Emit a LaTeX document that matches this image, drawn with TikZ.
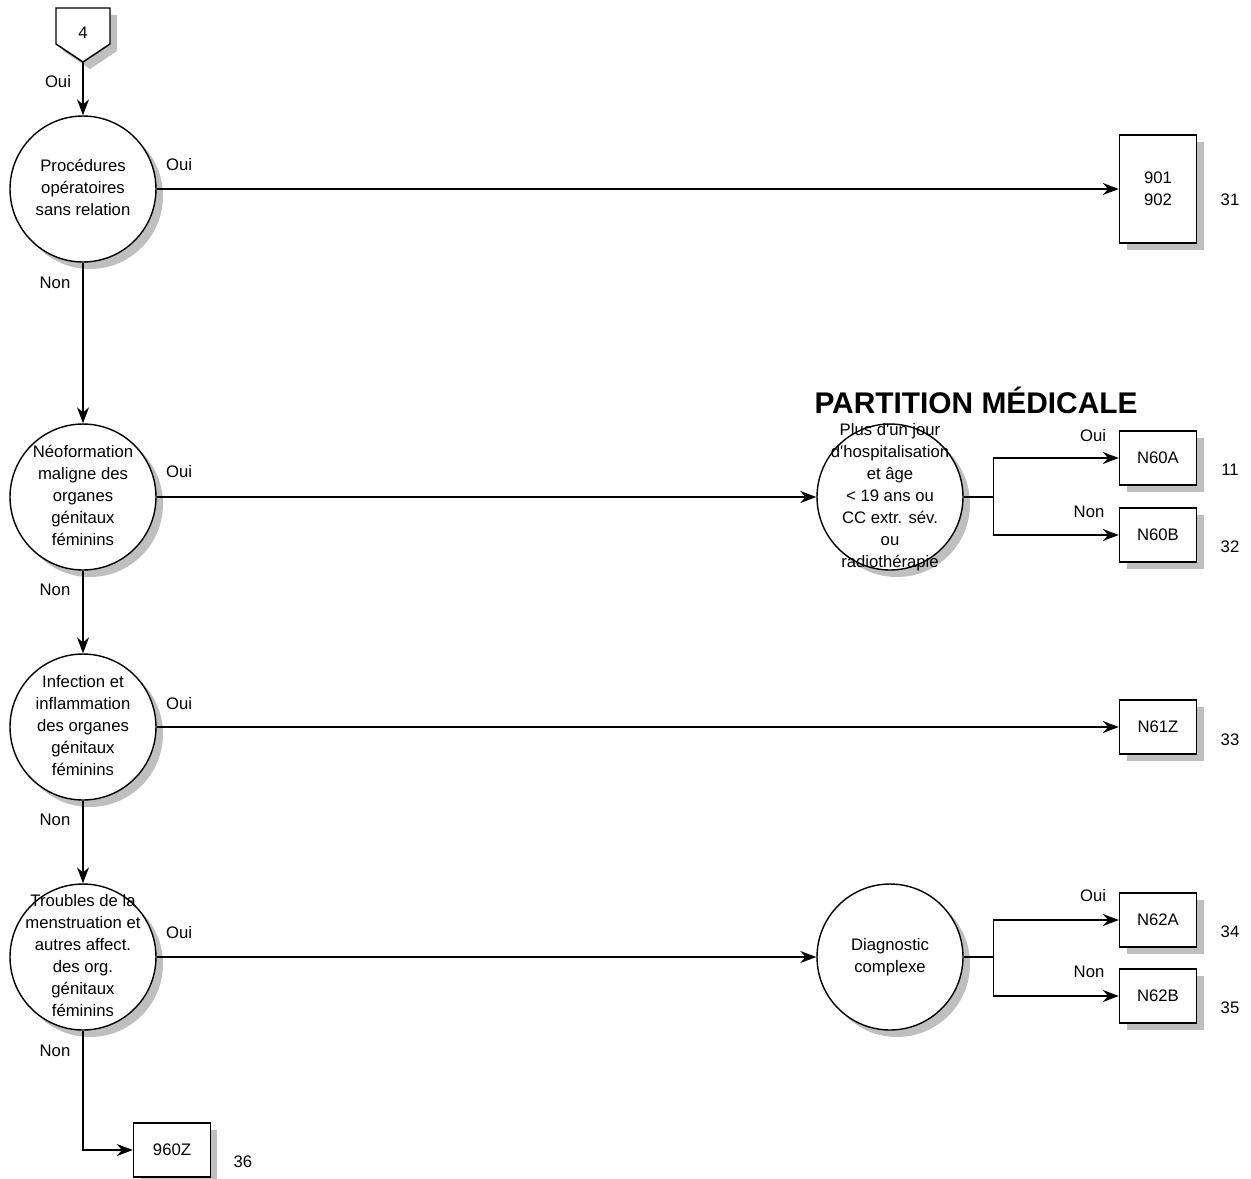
\documentclass[tikz,border=0pt]{standalone}
\usepackage{fontspec}
\setmainfont{Liberation Sans}
\usetikzlibrary{arrows.meta, shadows, positioning}

\newcommand\qtext[1]{\smash{\raisebox{-2.5pt}{\makebox[0pt]{\begin{tabular}{@{}c@{}}#1\end{tabular}}}}}

\tikzset{
  shade/.style={drop shadow={shadow xshift=0.14cm, shadow yshift=-0.14cm, fill=black!25, opacity=1}},
  question/.style={circle, draw, thick, fill=white, shade, minimum size=2.92cm, inner sep=0pt},
  result/.style={rectangle, draw, thick, fill=white, shade, minimum width=1.54cm, minimum height=1.08cm, align=center},
  lbl/.style={inner sep=0pt},
  arr/.style={thick, -{Stealth[length=0.32cm, width=0.24cm]}},
  line/.style={thick}
}

\begin{document}
\begin{tikzpicture}[x=0.02cm, y=-0.02cm, font=\fontsize{9.5}{12.5}\selectfont]
\useasboundingbox (0,0) rectangle (1251,1178);

% renvoi page
\fill[black!25] (63,15) -- (117,15) -- (117,51) -- (90,69) -- (63,51) -- cycle;
\draw[thick, fill=white] (56,8) -- (110,8) -- (110,44) -- (83,62) -- (56,44) -- cycle;
\node (c4) at (83,33) {4};
\coordinate (c4tip) at (83,62);

% questions
\node[question] (q1) at (83,189) {\qtext{Procédures\\opératoires\\sans relation}};
\node[question] (q2) at (83,497) {\qtext{Néoformation\\maligne des\\organes\\génitaux\\féminins}};
\node[question] (q3) at (83,727) {\qtext{Infection et\\inflammation\\des organes\\génitaux\\féminins}};
\node[question] (q4) at (83,957) {\qtext{Troubles de la\\menstruation et\\autres affect.\\des org.\\génitaux\\féminins}};
\node[question] (q5) at (890,497) {\qtext{Plus d\textquotesingle un jour\\d\textquotesingle hospitalisation\\et âge\\< 19 ans ou\\CC extr. sév.\\ou\\radiothérapie}};
\node[question] (q6) at (890,957) {\qtext{Diagnostic\\complexe}};

\node[font=\fontsize{17}{19}\selectfont\bfseries] (titre) at (976,400) {PARTITION MÉDICALE};

% resultats
\node[result, minimum height=2.16cm] (r901) at (1158,189) {901\\902};
\node[result] (n60a) at (1158,458) {N60A};
\node[result] (n60b) at (1158,535) {N60B};
\node[result] (n61z) at (1158,727) {N61Z};
\node[result] (n62a) at (1158,920) {N62A};
\node[result] (n62b) at (1158,996) {N62B};
\node[result] (r960) at (172,1150) {960Z};

\node[lbl] (k31) at (1230,200) {31};
\node[lbl] (k11) at (1230,470) {11};
\node[lbl] (k32) at (1230,547) {32};
\node[lbl] (k33) at (1230,740) {33};
\node[lbl] (k34) at (1230,932) {34};
\node[lbl] (k35) at (1230,1008) {35};
\node[lbl] (k36) at (243,1162) {36};

% liens
\draw[arr] (c4tip) -- (q1.north);
\draw[arr] (q1) -- (r901);
\draw[arr] (q1) -- (q2);
\draw[arr] (q2) -- (q5);
\draw[arr] (q2) -- (q3);
\draw[arr] (q3) -- (n61z);
\draw[arr] (q3) -- (q4);
\draw[arr] (q4) -- (q6);
\draw[arr] (q4.south) |- (r960.west);

\draw[line] (q5.east) -- ++(30,0) coordinate (b5);
\draw[arr] (b5) |- (n60a.west);
\draw[arr] (b5) |- (n60b.west);
\draw[line] (q6.east) -- ++(30,0) coordinate (b6);
\draw[arr] (b6) |- (n62a.west);
\draw[arr] (b6) |- (n62b.west);

% oui / non
\node[lbl] (o0) at (58,82) {Oui};
\node[lbl] (o1) at (179,165) {Oui};
\node[lbl] (o2) at (179,472) {Oui};
\node[lbl] (o3) at (179,704) {Oui};
\node[lbl] (o4) at (179,933) {Oui};
\node[lbl] (o5) at (1093,436) {Oui};
\node[lbl] (o6) at (1093,896) {Oui};
\node[lbl] (m1) at (55,283) {Non};
\node[lbl] (m2) at (55,590) {Non};
\node[lbl] (m3) at (55,820) {Non};
\node[lbl] (m4) at (55,1051) {Non};
\node[lbl] (m5) at (1089,512) {Non};
\node[lbl] (m6) at (1089,972) {Non};
\end{tikzpicture}
\end{document}
